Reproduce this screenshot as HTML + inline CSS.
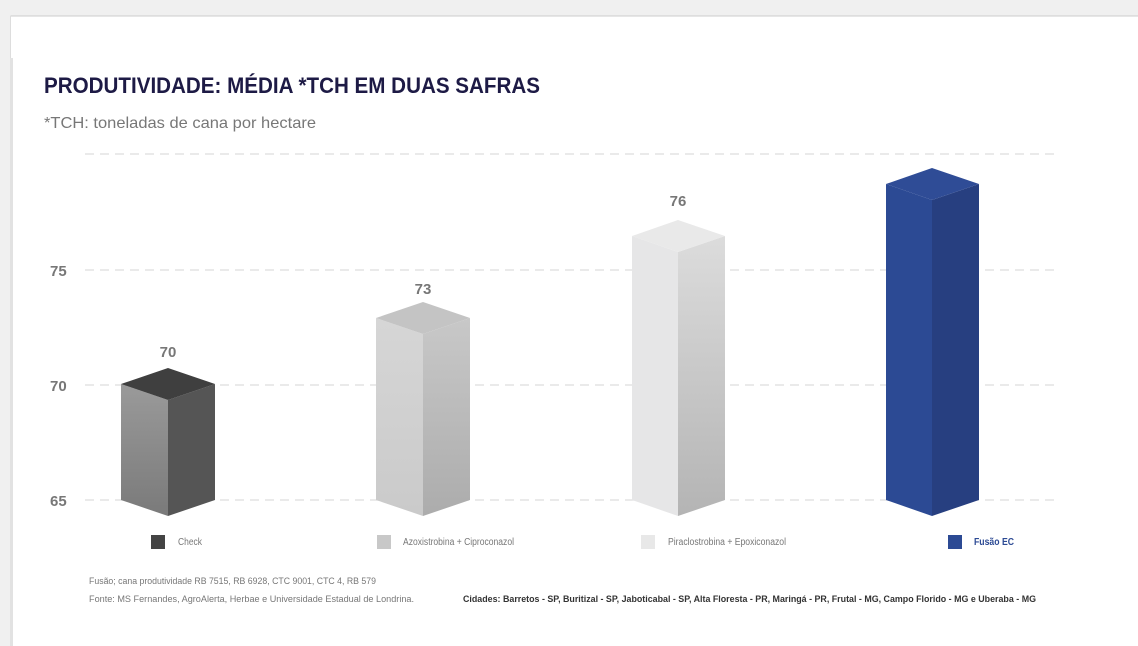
<!DOCTYPE html>
<html><head><meta charset="utf-8"><style>
body{margin:0;width:1138px;height:646px;background:#f0f0f0;overflow:hidden;font-family:"Liberation Sans",sans-serif}
</style></head><body>
<svg width="1138" height="646" xmlns="http://www.w3.org/2000/svg" style="position:absolute;left:0;top:0">
<defs>
<linearGradient id="g1" x1="0" y1="0" x2="0" y2="1"><stop offset="0" stop-color="#9a9a9a"/><stop offset="1" stop-color="#7a7a7a"/></linearGradient>
<linearGradient id="g2" x1="0" y1="0" x2="0" y2="1"><stop offset="0" stop-color="#d6d6d6"/><stop offset="1" stop-color="#cacaca"/></linearGradient>
<linearGradient id="g2r" x1="0" y1="0" x2="0" y2="1"><stop offset="0" stop-color="#c8c8c8"/><stop offset="1" stop-color="#acacac"/></linearGradient>
<linearGradient id="g3r" x1="0" y1="0" x2="0" y2="1"><stop offset="0" stop-color="#dcdcdc"/><stop offset="1" stop-color="#b4b4b4"/></linearGradient>
</defs>
<rect x="10" y="16" width="1128" height="630" fill="#fff"/>
<line x1="10.5" y1="16" x2="1138" y2="16" stroke="#ccc"/>
<line x1="10.5" y1="16" x2="10.5" y2="646" stroke="#ddd"/>
<rect x="10" y="58" width="3" height="588" fill="#e2e2e2"/>
<text x="44" y="93" font-size="22" font-weight="bold" fill="#1d1a45" textLength="496" lengthAdjust="spacingAndGlyphs">PRODUTIVIDADE: MÉDIA *TCH EM DUAS SAFRAS</text>
<text x="44" y="128" font-size="16" fill="#777" textLength="272" lengthAdjust="spacingAndGlyphs">*TCH: toneladas de cana por hectare</text>
<g stroke="#ddd" stroke-width="1.3" stroke-dasharray="9,6">
<line x1="85" y1="154" x2="1055" y2="154"/><line x1="85" y1="270" x2="1055" y2="270"/>
<line x1="85" y1="385" x2="1055" y2="385"/><line x1="85" y1="500" x2="1055" y2="500"/>
</g>
<g font-size="15" font-weight="bold" fill="#777">
<text x="50" y="276">75</text><text x="50" y="391">70</text><text x="50" y="506">65</text>
</g>
<polygon points="121,384 168,400 168,516 121,500" fill="url(#g1)"/>
<polygon points="168,400 215,384 215,500 168,516" fill="#555"/>
<polygon points="121,384 168,368 215,384 168,400" fill="#3f3f3f"/>
<polygon points="376,318 423,334 423,516 376,500" fill="url(#g2)"/>
<polygon points="423,334 470,318 470,500 423,516" fill="url(#g2r)"/>
<polygon points="376,318 423,302 470,318 423,334" fill="#c4c4c4"/>
<polygon points="632,236 678,252 678,516 632,500" fill="#e6e6e7"/>
<polygon points="678,252 725,236 725,500 678,516" fill="url(#g3r)"/>
<polygon points="632,236 678,220 725,236 678,252" fill="#e9e9e9"/>
<polygon points="886,184 932,200 932,516 886,500" fill="#2c4a94"/>
<polygon points="932,200 979,184 979,500 932,516" fill="#273f80"/>
<polygon points="886,184 932,168 979,184 932,200" fill="#2f4c96"/>
<g font-size="15" font-weight="bold" fill="#777" text-anchor="middle">
<text x="168" y="357">70</text><text x="423" y="294">73</text><text x="678" y="206">76</text>
</g>
<g font-size="10" fill="#777">
<rect x="151" y="535" width="14" height="14" fill="#444"/><text x="178" y="545" textLength="24" lengthAdjust="spacingAndGlyphs">Check</text>
<rect x="377" y="535" width="14" height="14" fill="#c8c8c8"/><text x="403" y="545" textLength="111" lengthAdjust="spacingAndGlyphs">Azoxistrobina + Ciproconazol</text>
<rect x="641" y="535" width="14" height="14" fill="#e8e8e8"/><text x="668" y="545" textLength="118" lengthAdjust="spacingAndGlyphs">Piraclostrobina + Epoxiconazol</text>
<rect x="948" y="535" width="14" height="14" fill="#2c4a94"/><text x="974" y="545" font-weight="bold" fill="#2c4a94" textLength="40" lengthAdjust="spacingAndGlyphs">Fusão EC</text>
</g>
<g font-size="9" fill="#777">
<text x="89" y="584" textLength="287" lengthAdjust="spacingAndGlyphs">Fusão; cana produtividade RB 7515, RB 6928, CTC 9001, CTC 4, RB 579</text>
<text x="89" y="602" textLength="325" lengthAdjust="spacingAndGlyphs">Fonte: MS Fernandes, AgroAlerta, Herbae e Universidade Estadual de Londrina.</text>
<text x="463" y="602" font-weight="bold" fill="#333" textLength="573" lengthAdjust="spacingAndGlyphs">Cidades: Barretos - SP, Buritizal - SP, Jaboticabal - SP,  Alta Floresta - PR, Maringá - PR,  Frutal - MG, Campo Florido - MG e Uberaba - MG</text>
</g>
</svg>
</body></html>
